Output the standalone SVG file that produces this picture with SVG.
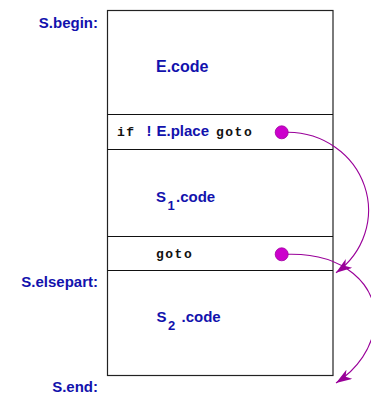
<svg xmlns="http://www.w3.org/2000/svg" width="371" height="396" viewBox="0 0 371 396">
  <style>
    .lbl { font-family: "Liberation Sans", Arial, sans-serif; font-weight: bold; font-size: 15px; fill: #1212ad; }
    .big { font-size: 16px; }
    .sub { font-family: "Liberation Sans", Arial, sans-serif; font-weight: bold; font-size: 13px; fill: #1212ad; }
    .mono { font-family: "Liberation Mono", "Courier New", monospace; font-weight: bold; font-size: 13px; fill: #111; letter-spacing: 1.5px; }
    .frame { fill: #fff; stroke: #222; stroke-width: 1.2; }
    .sep { stroke: #111; stroke-width: 1; }
    .dot { fill: #cc00cc; stroke: #a000a0; stroke-width: 0.8; }
    .jump { fill: none; stroke: #990099; stroke-width: 1.1; }
  </style>
  <defs>
    <marker id="arrow" viewBox="0 0 16 11" refX="16" refY="5.5" markerWidth="16" markerHeight="11" markerUnits="userSpaceOnUse" orient="auto">
      <path d="M0,0 L16,5.5 L0,11 L4.5,5.5 Z" fill="#990099"/>
    </marker>
  </defs>

  <!-- code layout column -->
  <g id="layout">
    <rect class="frame" x="107.5" y="10.5" width="225.5" height="365"/>
    <line class="sep" x1="107.5" y1="114.5" x2="333" y2="114.5"/>
    <line class="sep" x1="107.5" y1="149.5" x2="333" y2="149.5"/>
    <line class="sep" x1="107.5" y1="236.5" x2="333" y2="236.5"/>
    <line class="sep" x1="107.5" y1="270.5" x2="333" y2="270.5"/>
  </g>

  <!-- labels -->
  <g id="labels">
    <text class="lbl" x="98" y="27.5" text-anchor="end">S.begin:</text>
    <text class="lbl" x="98" y="287" text-anchor="end">S.elsepart:</text>
    <text class="lbl" x="98" y="391.5" text-anchor="end">S.end:</text>
  </g>

  <g id="e-code">
    <text class="lbl big" x="156" y="71.5">E.code</text>
  </g>

  <g id="cond-jump">
    <text class="mono" x="117" y="135.5">if</text>
    <text class="lbl" x="146.5" y="135.5">!</text>
    <text class="lbl" x="156.5" y="135.5">E.place</text>
    <text class="mono" x="216" y="135.5">goto</text>
    <circle class="dot" cx="281.7" cy="132.3" r="6.5"/>
  </g>

  <g id="s1-code">
    <text class="lbl" x="156" y="202">S</text>
    <text class="sub" x="167.5" y="209.5">1</text>
    <text class="lbl" x="176" y="202">.code</text>
  </g>

  <g id="jump-end">
    <text class="mono" x="156" y="258">goto</text>
    <circle class="dot" cx="281.7" cy="254.3" r="6.5"/>
  </g>

  <g id="s2-code">
    <text class="lbl" x="156.5" y="321.5">S</text>
    <text class="sub" x="168" y="330">2</text>
    <text class="lbl" x="181.5" y="321.5">.code</text>
  </g>

  <!-- jump targets -->
  <g id="connectors">
    <path class="jump" d="M288,132.3 A81,78 0 0 1 336,272.8" marker-end="url(#arrow)"/>
    <path class="jump" d="M288,254.3 C345,253 376,285 375,320 C374,348 356,370 336,383" marker-end="url(#arrow)"/>
  </g>
</svg>
